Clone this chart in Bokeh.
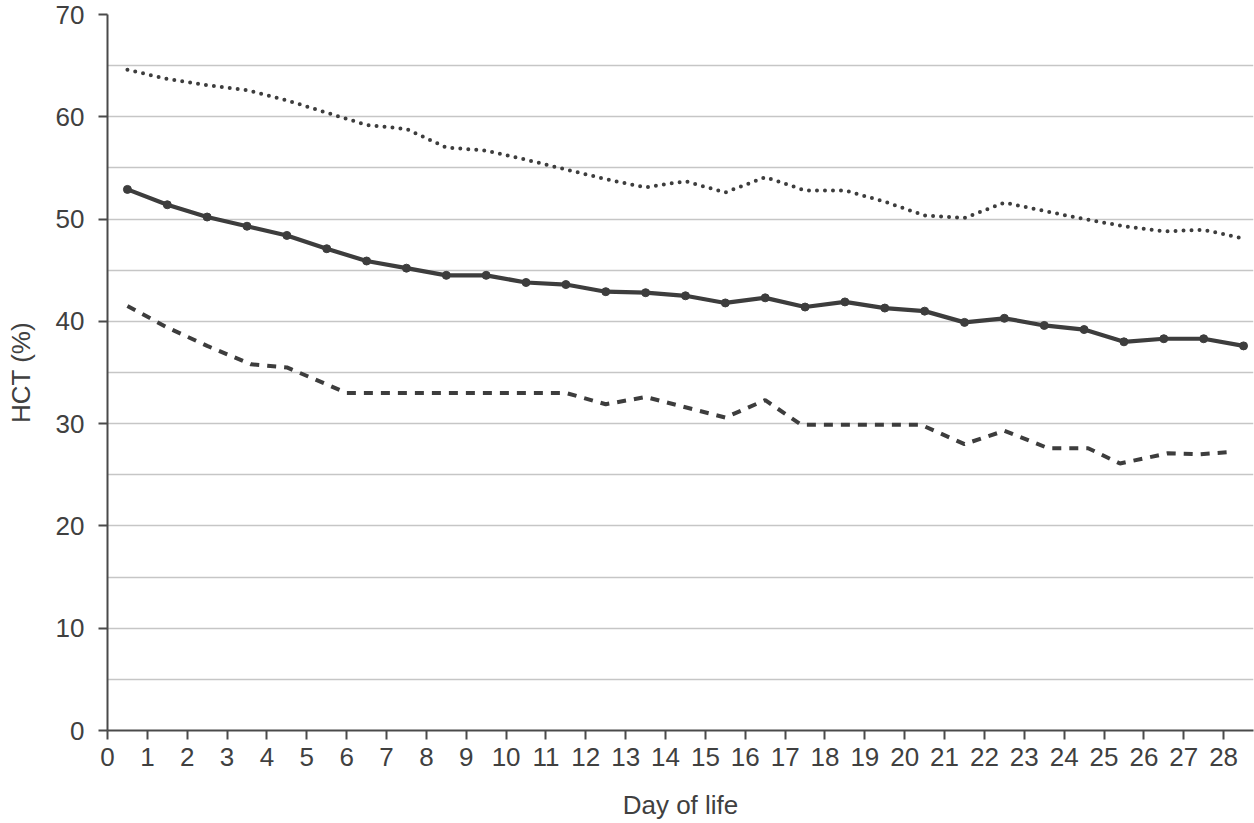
from bokeh.plotting import figure
from bokeh.models import FixedTicker, Range1d
from bokeh.embed import file_html
from bokeh.resources import INLINE

# ---- data ----
days = [0.5, 1.5, 2.5, 3.5, 4.5, 5.5, 6.5, 7.5, 8.5, 9.5, 10.5, 11.5, 12.5, 13.5, 14.5,
        15.5, 16.5, 17.5, 18.5, 19.5, 20.5, 21.5, 22.5, 23.5, 24.5, 25.5, 26.5, 27.5, 28.5]

hct_mean = [52.9, 51.4, 50.2, 49.3, 48.4, 47.1, 45.9, 45.2, 44.5, 44.5, 43.8, 43.6, 42.9, 42.8, 42.5,
            41.8, 42.3, 41.4, 41.9, 41.3, 41.0, 39.9, 40.3, 39.6, 39.2, 38.0, 38.3, 38.3, 37.6]

hct_upper = [64.6, 63.7, 63.1, 62.6, 61.6, 60.4, 59.2, 58.8, 57.0, 56.7, 55.8, 54.85, 53.9, 53.1, 53.7,
             52.6, 54.1, 52.8, 52.8, 51.7, 50.35, 50.1, 51.6, 50.8, 50.0, 49.3, 48.8, 48.95, 48.1]

lower_days = [0.5, 1.5, 2.5, 3.6, 4.5, 6.0, 11.5, 12.5, 13.5, 15.5, 16.5, 17.4, 20.4, 21.5,
              22.5, 23.6, 24.6, 25.4, 26.6, 27.4, 28.1]
hct_lower = [41.5, 39.4, 37.6, 35.8, 35.5, 33.0, 33.0, 31.9, 32.6, 30.6, 32.3, 29.9, 29.9, 28.0,
             29.3, 27.6, 27.6, 26.1, 27.1, 27.0, 27.2]

x_ticks = list(range(0, 29))
y_ticks = [0, 10, 20, 30, 40, 50, 60, 70]
y_grid = [0, 5, 10, 15, 20, 25, 30, 35, 40, 45, 50, 55, 60, 65, 70]

INK = "#3d3d3d"
TXT = "#404040"
FONT = "Liberation Sans"

p = figure(width=1254, height=823, output_backend="svg", toolbar_location=None,
           x_range=Range1d(0, 28.75), y_range=Range1d(0, 70),
           min_border_left=107, min_border_top=14, min_border_right=1, min_border_bottom=93)
p.outline_line_color = None
p.background_fill_color = "white"

# grid
p.xgrid.visible = False
p.ygrid.ticker = FixedTicker(ticks=y_grid)
p.ygrid.grid_line_color = "#c6c6c6"
p.ygrid.grid_line_width = 1.6

for ax in (p.xaxis[0], p.yaxis[0]):
    ax.axis_line_color = "#4a4a4a"
    ax.axis_line_width = 2
    ax.major_tick_line_color = "#4a4a4a"
    ax.major_tick_line_width = 2
    ax.major_tick_out = 9
    ax.major_tick_in = 0
    ax.minor_tick_line_color = None
    ax.major_label_text_font = FONT
    ax.major_label_text_font_size = "26px"
    ax.major_label_text_color = TXT
    ax.axis_label_text_font = FONT
    ax.axis_label_text_font_size = "26px"
    ax.axis_label_text_font_style = "normal"
    ax.axis_label_text_color = TXT

p.xaxis.ticker = FixedTicker(ticks=x_ticks)
p.yaxis.ticker = FixedTicker(ticks=y_ticks)
p.xaxis.axis_label = "Day of life"
p.yaxis.axis_label = "HCT (%)"
p.xaxis.major_label_standoff = 8
p.xaxis.axis_label_standoff = 21
p.yaxis.major_label_standoff = 14
p.yaxis.axis_label_standoff = 17

# series
p.line(days, hct_upper, line_width=4, line_color=INK, line_dash="0 8", line_cap="round")
p.line(lower_days, hct_lower, line_width=4, line_color=INK, line_dash="9 8")
p.line(days, hct_mean, line_width=4.2, line_color=INK, line_join="round")
p.scatter(days, hct_mean, size=8, fill_color=INK, line_color=INK)

open("out.html", "w").write(file_html(p, INLINE))
